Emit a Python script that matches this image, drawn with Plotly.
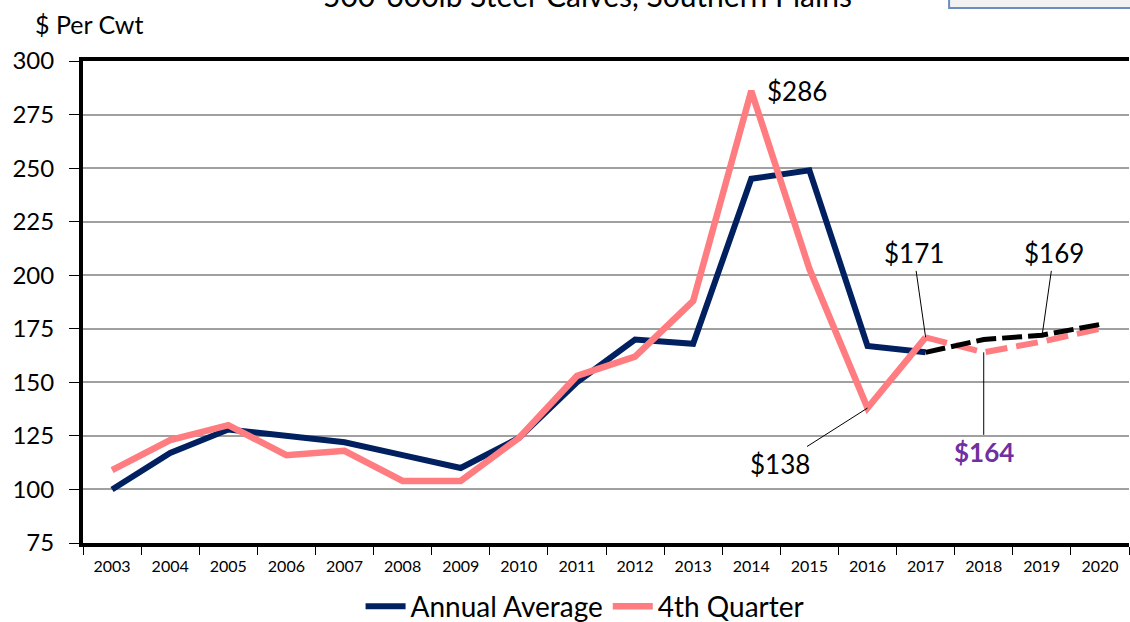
import plotly.graph_objects as go

years = list(range(2003, 2021))
hist_years = list(range(2003, 2018))
fc_years = [2017, 2018, 2019, 2020]

annual_avg = [100, 117, 128, 125, 122, 116, 110, 124, 150, 170, 168, 245, 249, 167, 164]
annual_fc = [164, 170, 172, 177]
q4 = [109, 123, 130, 116, 118, 104, 104, 124, 153, 162, 188, 286, 203, 138, 171]
q4_fc = [171, 164, 169, 175]

NAVY = '#002060'
PINK = '#FF7C80'
FONT = 'Lato, Noto Sans, sans-serif'

fig = go.Figure()
fig.add_trace(go.Scatter(x=hist_years, y=annual_avg, mode='lines', name='Annual Average',
                         line=dict(color=NAVY, width=6)))
fig.add_trace(go.Scatter(x=hist_years, y=q4, mode='lines', name='4th Quarter',
                         line=dict(color=PINK, width=6.5)))
fig.add_trace(go.Scatter(x=fc_years, y=q4_fc, mode='lines', showlegend=False,
                         line=dict(color=PINK, width=6, dash='22px,9px')))
fig.add_trace(go.Scatter(x=fc_years, y=annual_fc, mode='lines', showlegend=False,
                         line=dict(color='black', width=5, dash='20px,6px')))

# callouts
lbl = dict(size=26, color='black', family=FONT)
fig.add_annotation(x=2014, y=286, text='$286', showarrow=False, xanchor='left', xshift=14, font=lbl)
fig.add_annotation(x=2016, y=138, text='$138', showarrow=True, arrowhead=0, arrowwidth=1,
                   arrowcolor='black', ax=-88, ay=56, font=lbl)
fig.add_annotation(x=2017, y=171, text='$171', showarrow=True, arrowhead=0, arrowwidth=1,
                   arrowcolor='black', ax=-12, ay=-84, font=lbl)
fig.add_annotation(x=2018, y=164, text='<b>$164</b>', showarrow=True, arrowhead=0, arrowwidth=1,
                   arrowcolor='black', ax=0, ay=100, font=dict(size=26, color='#7030A0', family=FONT))
fig.add_annotation(x=2019, y=171, text='$169', showarrow=True, arrowhead=0, arrowwidth=1,
                   arrowcolor='black', ax=12, ay=-84, font=lbl)

# title (cut off at top of picture) and units label
fig.add_annotation(xref='paper', yref='paper', x=0.482, y=1.095, yanchor='bottom', showarrow=False,
                   text='500-600lb Steer Calves, Southern Plains',
                   font=dict(size=30, color='black', family=FONT))
fig.add_annotation(xref='paper', yref='paper', x=-0.048, y=1.077, xanchor='left', yanchor='middle',
                   showarrow=False, text='$ Per Cwt', font=dict(size=25, color='black', family=FONT))

# text box peeking in at top right
fig.add_shape(type='rect', xref='paper', yref='paper', x0=0.828, x1=1.2, y0=1.11, y1=1.3,
              fillcolor='#F2F2F2', line=dict(color='#6C8EBF', width=2))

fig.update_layout(
    width=1130, height=622,
    margin=dict(l=83, r=1, t=61, b=79),
    paper_bgcolor='white', plot_bgcolor='white',
    font=dict(family=FONT, color='black'),
    showlegend=True,
    legend=dict(orientation='h', x=0.48, xanchor='center', xref='paper',
                y=0.025, yanchor='middle', yref='container',
                font=dict(size=28, family=FONT), itemwidth=40, tracegroupgap=0),
    xaxis=dict(range=[2002.5, 2020.5], tickvals=years, ticktext=[str(y) for y in years],
               ticks='', showgrid=False, zeroline=False, showline=True, linecolor='black',
               linewidth=4, mirror=True, tickfont=dict(size=16), automargin=False,
               ticklabelstandoff=6,
               minor=dict(tick0=2002.5, dtick=1, ticks='outside', ticklen=8, tickcolor='black',
                          tickwidth=1, showgrid=False)),
    yaxis=dict(range=[75, 300], dtick=25, ticks='outside', ticklen=10, tickcolor='black',
               showgrid=True, gridcolor='#A0A0A0', gridwidth=1.5, zeroline=False,
               showline=True, linecolor='black', linewidth=4, tickfont=dict(size=24),
               ticklabelstandoff=10, automargin=False),
)

fig.write_html("out.html", config={'displayModeBar': False},
               post_script="document.body.style.margin='0';")
